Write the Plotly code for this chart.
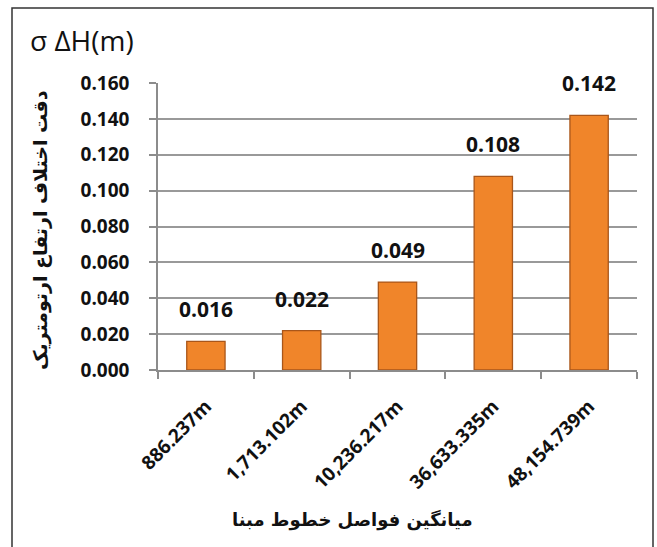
import plotly.graph_objects as go

categories = ["886.237m", "1,713.102m", "10,236.217m", "36,633.335m", "48,154.739m"]
values = [0.016, 0.022, 0.049, 0.108, 0.142]
value_labels = ["0.016", "0.022", "0.049", "0.108", "0.142"]
y_ticks = [0.0, 0.02, 0.04, 0.06, 0.08, 0.10, 0.12, 0.14, 0.16]

W, H = 657, 547
L, R, T, B = 158, 20, 83, 177
pw, ph = W - L - R, H - T - B

def px(x):
    return (x - L) / pw

def py(y):
    return (H - B - y) / ph

fig = go.Figure()
fig.add_trace(go.Bar(
    x=categories, y=values,
    marker=dict(color="#F0852A", line=dict(color="#A9561A", width=1.3)),
    hoverinfo="skip",
))

for c, v, t in zip(categories, values, value_labels):
    fig.add_annotation(x=c, y=v, text="<b>%s</b>" % t, showarrow=False,
                       yanchor="bottom", yshift=16,
                       font=dict(family="Open Sans", size=21, color="#111111"))

fig.add_annotation(xref="paper", yref="paper", x=px(28), y=py(40),
                   xanchor="left", yanchor="middle", showarrow=False,
                   text="σ ΔH(m)", font=dict(family="Open Sans", size=28, color="#111111"))

fig.add_annotation(xref="paper", yref="paper", x=px(40), y=py(230),
                   xanchor="center", yanchor="middle", showarrow=False, textangle=-90,
                   text="<b>دقت اختلاف ارتفاع ارتومتریک</b>",
                   font=dict(family="DejaVu Sans", size=19, color="#111111"))

fig.add_annotation(xref="paper", yref="paper", x=px(352), y=py(520),
                   xanchor="center", yanchor="middle", showarrow=False,
                   text="<b>میانگین فواصل خطوط مبنا</b>",
                   font=dict(family="DejaVu Sans", size=18, color="#111111"))

fig.add_shape(type="rect", xref="paper", yref="paper",
              x0=px(12), x1=px(653), y0=py(560), y1=py(8),
              line=dict(color="#333333", width=1.5), layer="below")

fig.update_layout(
    width=W, height=H,
    margin=dict(l=L, r=R, t=T, b=B),
    paper_bgcolor="white", plot_bgcolor="white",
    bargap=0.6, showlegend=False,
)
fig.update_xaxes(
    type="category", tickson="boundaries", ticks="outside", ticklen=7,
    tickcolor="#8C8C8C", tickwidth=1.5,
    showline=True, linecolor="#8C8C8C", linewidth=1.5,
    showgrid=False, tickangle=-45, ticklabelstandoff=16,
    tickfont=dict(family="Open Sans", size=19, color="#111111", weight="bold"),
)
fig.update_yaxes(
    range=[0, 0.16], tickvals=y_ticks, tickformat=".3f",
    ticks="outside", ticklen=7, tickcolor="#8C8C8C", tickwidth=1.5,
    showline=True, linecolor="#8C8C8C", linewidth=1.5,
    showgrid=True, gridcolor="#999999", gridwidth=1.5,
    ticklabelstandoff=16, zeroline=False,
    tickfont=dict(family="Open Sans", size=19, color="#111111", weight="bold"),
)

fig.write_html("out.html")
